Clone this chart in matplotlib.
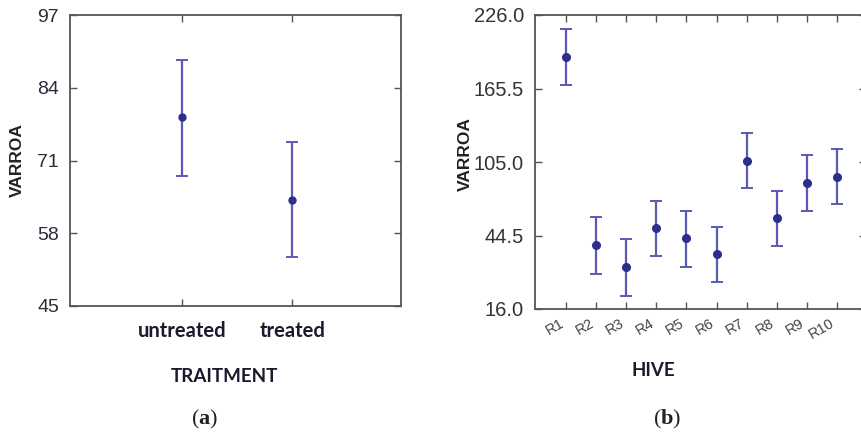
import numpy as np
import matplotlib
matplotlib.use("Agg")
import matplotlib.pyplot as plt

# panel (a): mean varroa count per treatment, with interval limits
treatments = ["untreated", "treated"]
treat_mean = [78.7, 64.0]
treat_low = [68.3, 53.7]
treat_high = [88.9, 74.3]
treat_ticks = [45, 58, 71, 84, 97]

# panel (b): mean varroa count per hive
hives = ["R1", "R2", "R3", "R4", "R5", "R6", "R7", "R8", "R9", "R10"]
hive_mean = [191.4, 40.7, 32.2, 50.3, 43.6, 37.4, 105.8, 58.5, 87.9, 92.6]
hive_low = [168.2, 29.6, 21.1, 36.4, 32.2, 26.3, 83.3, 40.3, 64.6, 70.1]
hive_high = [214.3, 59.4, 43.3, 73.1, 64.6, 51.9, 128.7, 81.1, 110.7, 115.4]
hive_ticks = [16.0, 44.5, 105.0, 165.5, 226.0]

BAR_COLOR = "#5a5ab4"
DOT_COLOR = "#2a2f8a"
SPINE_COLOR = "#555555"

plt.rcParams["mathtext.fontset"] = "custom"
plt.rcParams["mathtext.rm"] = "Liberation Serif"
plt.rcParams["mathtext.bf"] = "Liberation Serif:bold"

fig = plt.figure(figsize=(8.62, 4.32), dpi=100)
W, H = 862, 432


def px_axes(x0, y0, x1, y1):
    # axes box given in pixel coordinates of the picture (top-left origin)
    return fig.add_axes([x0 / W, 1 - y1 / H, (x1 - x0) / W, (y1 - y0) / H])


def style_frame(ax):
    for sp in ax.spines.values():
        sp.set_color(SPINE_COLOR)
        sp.set_linewidth(1.3)
    ax.tick_params(direction="in", length=5, width=1.0, color=SPINE_COLOR,
                   top=True, right=True)


def draw_errors(ax, x, mean, low, high, ms):
    mean = np.array(mean)
    err = np.vstack([mean - np.array(low), np.array(high) - mean])
    ax.errorbar(x, mean, yerr=err, fmt="none", ecolor=BAR_COLOR,
                elinewidth=1.6, capsize=4, capthick=1.4)
    ax.plot(x, mean, "o", color=DOT_COLOR, ms=ms, zorder=3)


# ---- panel (a)
ax1 = px_axes(70, 15, 401, 306)
style_frame(ax1)
xa = np.arange(1, len(treatments) + 1)
draw_errors(ax1, xa, treat_mean, treat_low, treat_high, ms=5)
ax1.set_xlim(-0.02, 2.99)
ax1.set_ylim(treat_ticks[0], treat_ticks[-1])
ax1.set_yticks(treat_ticks)
ax1.set_yticklabels([str(t) for t in treat_ticks], fontsize=14,
                    family="Liberation Sans", color="#2b2b3a")
ax1.tick_params(axis="y", pad=8)
ax1.set_xticks(xa)
ax1.set_xticklabels(treatments, fontsize=14.5, family="Lato",
                    fontweight="bold", color="#1a1a2e")
ax1.tick_params(axis="x", pad=11)
fig.text(17 / W, 1 - 160 / H, "VARROA", rotation=90, ha="center",
         va="center", fontsize=12.5, fontweight="bold",
         family="Liberation Sans", color="#222222")
fig.text(224 / W, 1 - 376 / H, "TRAITMENT", ha="center", va="center",
         fontsize=13.5, fontweight="bold", family="Lato", color="#1a1a2e")
fig.text(205 / W, 1 - 419 / H, r"$\mathrm{(}\mathbf{a}\mathrm{)}$",
         ha="center", va="center", fontsize=16, color="#222222")

# ---- panel (b): y axis with equally spaced ticks at uneven values
seg = np.arange(len(hive_ticks), dtype=float)


def fwd(v):
    return np.interp(v, hive_ticks, seg)


def inv(u):
    return np.interp(u, seg, hive_ticks)


ax2 = px_axes(535, 15, 866, 309)
style_frame(ax2)
xb = np.arange(len(hives))
ax2.set_yscale("function", functions=(fwd, inv))
draw_errors(ax2, xb, hive_mean, hive_low, hive_high, ms=5.5)
ax2.set_xlim(-1.03, 9.96)
ax2.set_ylim(hive_ticks[0], hive_ticks[-1])
ax2.set_yticks(hive_ticks)
ax2.set_yticklabels(["%.1f" % t for t in hive_ticks], fontsize=14.5,
                    family="Liberation Sans", color="#333333")
ax2.yaxis.set_minor_locator(matplotlib.ticker.NullLocator())
ax2.tick_params(axis="y", pad=8)
ax2.set_xticks(xb)
ax2.set_xticklabels(hives, fontsize=10.5, family="Liberation Sans",
                    color="#444444", rotation=30, ha="right")
ax2.tick_params(axis="x", pad=5)
fig.text(465 / W, 1 - 154 / H, "VARROA", rotation=90, ha="center",
         va="center", fontsize=12.5, fontweight="bold",
         family="Liberation Sans", color="#222222")
fig.text(653 / W, 1 - 370 / H, "HIVE", ha="center", va="center",
         fontsize=13.5, fontweight="bold", family="Lato", color="#1a1a2e")
fig.text(667 / W, 1 - 419 / H, r"$\mathrm{(}\mathbf{b}\mathrm{)}$",
         ha="center", va="center", fontsize=16, color="#222222")

fig.savefig("out.png", dpi=100)
